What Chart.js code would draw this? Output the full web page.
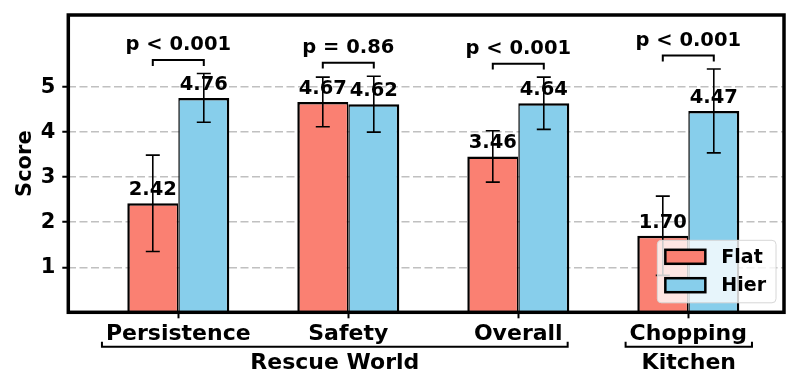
<!DOCTYPE html>
<html>
<head>
<meta charset="utf-8">
<script src="https://cdn.jsdelivr.net/npm/chart.js@4.4.0/dist/chart.umd.min.js"></script>
<style>
  html, body { margin: 0; padding: 0; background: #fff; }
</style>
</head>
<body>
<canvas id="scoreChart" width="800" height="387"></canvas>
<script>
// values
const categories = ['Persistence', 'Safety', 'Overall', 'Chopping'];
const flatScores = [2.42, 4.67, 3.46, 1.70];
const hierScores = [4.76, 4.62, 4.64, 4.47];
const flatErr = [1.07, 0.55, 0.57, 0.88];
const hierErr = [0.54, 0.62, 0.58, 0.93];
const pLabels = ['p < 0.001', 'p = 0.86', 'p < 0.001', 'p < 0.001'];
const groupNames = ['Rescue World', 'Kitchen'];
const groupOf = [0, 0, 0, 1];
const yTicks = [1, 2, 3, 4, 5];

const FLAT = '#FA8072';
const HIER = '#87CEEB';
const FONT = 'DejaVu Sans';

Chart.defaults.font.family = FONT;
Chart.defaults.font.weight = 'bold';
Chart.defaults.color = '#000';

const ctx = document.getElementById('scoreChart').getContext('2d');

const overlay = {
  id: 'overlay',
  afterDatasetsDraw(chart) {
    const { ctx, chartArea, scales: { x, y } } = chart;
    const errs = [flatErr, hierErr];
    const means = [flatScores, hierScores];

    ctx.save();
    // error bars
    ctx.strokeStyle = '#000';
    ctx.lineWidth = 1.6;
    for (let d = 0; d < 2; d++) {
      const meta = chart.getDatasetMeta(d);
      meta.data.forEach((bar, i) => {
        const lo = y.getPixelForValue(means[d][i] - errs[d][i]);
        const hi = y.getPixelForValue(means[d][i] + errs[d][i]);
        ctx.beginPath();
        ctx.moveTo(bar.x, lo); ctx.lineTo(bar.x, hi);
        ctx.moveTo(bar.x - 7, lo); ctx.lineTo(bar.x + 7, lo);
        ctx.moveTo(bar.x - 7, hi); ctx.lineTo(bar.x + 7, hi);
        ctx.stroke();
      });
    }

    // axes frame
    ctx.lineWidth = 3.5;
    ctx.strokeRect(chartArea.left, chartArea.top, chartArea.right - chartArea.left, chartArea.bottom - chartArea.top);

    // value labels
    ctx.fillStyle = '#000';
    ctx.font = 'bold 19.5px "' + FONT + '"';
    ctx.textAlign = 'center';
    ctx.textBaseline = 'alphabetic';
    for (let d = 0; d < 2; d++) {
      const meta = chart.getDatasetMeta(d);
      meta.data.forEach((bar, i) => {
        ctx.fillText(means[d][i].toFixed(2), bar.x, bar.y - 8);
      });
    }

    // significance brackets
    ctx.lineWidth = 2;
    const m0 = chart.getDatasetMeta(0), m1 = chart.getDatasetMeta(1);
    categories.forEach((c, i) => {
      const top = Math.max(flatScores[i] + flatErr[i], hierScores[i] + hierErr[i]);
      const legY = y.getPixelForValue(top + 0.17);
      const barY = y.getPixelForValue(top + 0.30);
      const x1 = m0.data[i].x, x2 = m1.data[i].x;
      ctx.beginPath();
      ctx.moveTo(x1, legY); ctx.lineTo(x1, barY); ctx.lineTo(x2, barY); ctx.lineTo(x2, legY);
      ctx.stroke();
      ctx.fillText(pLabels[i], (x1 + x2) / 2, barY - 10);
    });

    // group brackets under the tick labels
    ctx.font = 'bold 22px "' + FONT + '"';
    const by = chartArea.bottom + 34.5;
    groupNames.forEach((g, gi) => {
      const idx = categories.map((c, i) => i).filter(i => groupOf[i] === gi);
      const first = idx[0], last = idx[idx.length - 1];
      const left = x.getPixelForValue(first) - ctx.measureText(categories[first]).width / 2 - 4;
      const right = x.getPixelForValue(last) + ctx.measureText(categories[last]).width / 2 + 5;
      ctx.beginPath();
      ctx.moveTo(left, by - 5); ctx.lineTo(left, by); ctx.lineTo(right, by); ctx.lineTo(right, by - 5);
      ctx.stroke();
      ctx.fillText(g, (left + right) / 2, chartArea.bottom + 56.5);
    });
    ctx.restore();
  },
  afterDraw(chart) {
    // legend, lower right inside the axes
    const { ctx, chartArea } = chart;
    const items = [['Flat', FLAT], ['Hier', HIER]];
    ctx.save();
    ctx.font = 'bold 19px "' + FONT + '"';
    const tw = Math.max(...items.map(it => ctx.measureText(it[0]).width));
    const w = 64 + tw + 10, h = 62.5;
    const lx = chartArea.right - 8 - w, ly = chartArea.bottom - 9.5 - h;
    ctx.beginPath();
    ctx.roundRect(lx, ly, w, h, 4);
    ctx.fillStyle = 'rgba(255,255,255,0.8)';
    ctx.fill();
    ctx.strokeStyle = '#d6d6d6';
    ctx.lineWidth = 1;
    ctx.stroke();
    items.forEach((it, k) => {
      const cy = ly + 16.5 + k * 28.4;
      ctx.fillStyle = it[1];
      ctx.fillRect(lx + 8, cy - 7, 40, 14);
      ctx.strokeStyle = '#000';
      ctx.lineWidth = 2.5;
      ctx.strokeRect(lx + 8, cy - 7, 40, 14);
      ctx.fillStyle = '#000';
      ctx.textAlign = 'left';
      ctx.textBaseline = 'middle';
      ctx.fillText(it[0], lx + 64, cy + 1);
    });
    ctx.restore();
  }
};

const chart = new Chart(ctx, {
  type: 'bar',
  data: {
    datasets: [
      {
        label: 'Flat',
        data: flatScores.map((v, i) => ({ x: i, y: v })),
        backgroundColor: FLAT,
        borderColor: '#000',
        borderWidth: { top: 2.5, left: 2.5, right: 1.5, bottom: 0 },
        borderSkipped: false
      },
      {
        label: 'Hier',
        data: hierScores.map((v, i) => ({ x: i, y: v })),
        backgroundColor: HIER,
        borderColor: '#000',
        borderWidth: { top: 2.5, left: 1.5, right: 2.5, bottom: 0 },
        borderSkipped: false
      }
    ]
  },
  options: {
    responsive: false,
    animation: false,
    devicePixelRatio: 1,
    categoryPercentage: 0.6,
    barPercentage: 1.0,
    layout: { padding: { left: 9, top: 15, right: 16, bottom: 0 } },
    plugins: { legend: { display: false }, tooltip: { enabled: false } },
    scales: {
      x: {
        type: 'linear',
        min: -0.647,
        max: 3.563,
        offset: false,
        afterBuildTicks: s => { s.ticks = categories.map((c, i) => ({ value: i })); },
        afterFit: s => { s.height = 74.7; s.paddingLeft = 0; s.paddingRight = 0; },
        ticks: {
          callback: v => categories[v],
          font: { size: 22, weight: 'bold' },
          color: '#000',
          padding: 3,
          maxRotation: 0,
          autoSkip: false
        },
        grid: {
          offset: false,
          drawOnChartArea: false,
          tickLength: 6,
          tickColor: '#000',
          tickWidth: 2
        },
        border: { display: false }
      },
      y: {
        min: 0,
        max: 6.6,
        afterBuildTicks: s => { s.ticks = yTicks.map(v => ({ value: v })); },
        afterFit: s => { s.width = 59.3; s.paddingTop = 0; s.paddingBottom = 0; },
        ticks: {
          font: { size: 21, weight: 'bold' },
          color: '#000',
          padding: 7
        },
        title: {
          display: true,
          text: 'Score',
          font: { size: 21, weight: 'bold' },
          color: '#000',
          padding: { top: 4, bottom: 0 }
        },
        grid: {
          color: '#c0c0c0',
          lineWidth: 1.5,
          tickLength: 6,
          tickColor: '#000',
          tickWidth: 2,
          tickBorderDash: []
        },
        border: { display: false, dash: [8, 3.5] }
      }
    }
  },
  plugins: [overlay]
});
</script>
</body>
</html>
